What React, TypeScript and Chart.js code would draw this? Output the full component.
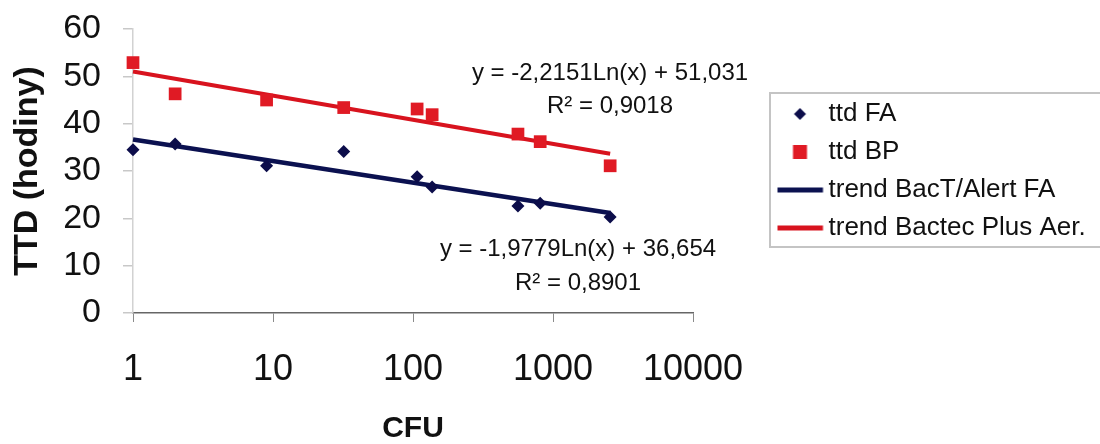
import React, { useEffect, useRef } from 'react';
import { Chart, registerables } from 'chart.js';

Chart.register(...registerables);

const FONT = '"Liberation Sans", Arial, Helvetica, sans-serif';

// ---- data ----
const cfu = [1, 2, 9, 32, 107, 137, 562, 810, 2560];
const ttdFA = [34.5, 35.7, 31.1, 34.1, 28.8, 26.6, 22.6, 23.2, 20.3];
const ttdBP = [52.9, 46.3, 45.0, 43.4, 43.1, 41.9, 37.8, 36.2, 31.1];
const trendX = [1, 2560];
const trendFA = [36.65, 21.13];
const trendBP = [51.03, 33.64];
const xTickValues = [1, 10, 100, 1000, 10000];
const yMin = 0;
const yMax = 60;
const yStep = 10;
const seriesNames = ['ttd FA', 'ttd BP', 'trend BacT/Alert FA', 'trend Bactec Plus Aer.'];
const equationBP = ['y = -2,2151Ln(x) + 51,031', 'R² = 0,9018'];
const equationFA = ['y = -1,9779Ln(x) + 36,654', 'R² = 0,8901'];
const xTitle = 'CFU';
const yTitle = 'TTD (hodiny)';

const NAVY = '#0c0d4a';
const NAVY_LINE = '#0b1150';
const RED = '#e01a24';
const RED_LINE = '#d8131e';

function makeMarker(kind: string, color: string): HTMLCanvasElement {
  const c = document.createElement('canvas');
  c.width = 60;
  c.height = 18;
  const g = c.getContext('2d') as CanvasRenderingContext2D;
  g.fillStyle = color;
  const cx = 27.5;
  const cy = 9;
  if (kind === 'diamond') {
    g.beginPath();
    g.moveTo(cx - 6, cy);
    g.lineTo(cx, cy - 6);
    g.lineTo(cx + 6, cy);
    g.lineTo(cx, cy + 6);
    g.closePath();
    g.fill();
  } else if (kind === 'square') {
    g.fillRect(cx - 7, cy - 7, 14, 14);
  } else {
    g.fillRect(2.5, cy - 2.5, 48, 5);
  }
  return c;
}

const annotationPlugin = {
  id: 'annotations',
  afterDraw(chart: any) {
    const ctx = chart.ctx as CanvasRenderingContext2D;
    ctx.save();
    // legend frame
    if (chart.legend) {
      ctx.strokeStyle = '#c4c4c4';
      ctx.lineWidth = 2;
      ctx.strokeRect(770, 93, 360, 154);
    }
    ctx.fillStyle = '#111';
    ctx.font = `24px ${FONT}`;
    ctx.textAlign = 'center';
    ctx.textBaseline = 'middle';
    ctx.fillText(equationBP[0], 610, 73);
    ctx.fillText(equationBP[1], 610, 106);
    ctx.fillText(equationFA[0], 578, 249);
    ctx.fillText(equationFA[1], 578, 283);
    ctx.restore();
  },
};

export default function App() {
  const ref = useRef<HTMLCanvasElement | null>(null);

  useEffect(() => {
    if (!ref.current) return;
    const markers = [
      makeMarker('diamond', NAVY),
      makeMarker('square', RED),
      makeMarker('line', NAVY_LINE),
      makeMarker('line', RED_LINE),
    ];
    const colors = [NAVY, RED, NAVY_LINE, RED_LINE];

    const chart = new Chart(ref.current, {
      type: 'scatter',
      data: {
        datasets: [
          {
            label: seriesNames[0],
            data: cfu.map((x, i) => ({ x, y: ttdFA[i] })),
            pointStyle: 'rectRot',
            pointRadius: 6.5,
            backgroundColor: NAVY,
            borderColor: NAVY,
            borderWidth: 0,
            clip: false,
            order: 0,
          },
          {
            label: seriesNames[1],
            data: cfu.map((x, i) => ({ x, y: ttdBP[i] })),
            pointStyle: 'rect',
            pointRadius: 9,
            backgroundColor: RED,
            borderColor: RED,
            borderWidth: 0,
            clip: false,
            order: 0,
          },
          {
            label: seriesNames[2],
            data: trendX.map((x, i) => ({ x, y: trendFA[i] })),
            showLine: true,
            pointRadius: 0,
            borderColor: NAVY_LINE,
            backgroundColor: NAVY_LINE,
            borderWidth: 4.5,
            clip: false,
            order: 1,
          },
          {
            label: seriesNames[3],
            data: trendX.map((x, i) => ({ x, y: trendBP[i] })),
            showLine: true,
            pointRadius: 0,
            borderColor: RED_LINE,
            backgroundColor: RED_LINE,
            borderWidth: 4,
            clip: false,
            order: 1,
          },
        ],
      },
      options: {
        responsive: false,
        animation: false,
        events: [],
        layout: { padding: { top: 29, left: 0, right: 12.5, bottom: 0 } },
        plugins: {
          tooltip: { enabled: false },
          legend: {
            display: true,
            position: 'right',
            align: 'center',
            fullSize: false,
            maxWidth: 310,
            labels: {
              usePointStyle: true,
              boxWidth: 26,
              boxHeight: 26,
              padding: 12,
              textAlign: 'left',
              color: '#111',
              font: { family: FONT, size: 26 },
              generateLabels: () =>
                seriesNames.map((name, i) => ({
                  text: name,
                  fillStyle: colors[i],
                  strokeStyle: colors[i],
                  lineWidth: 0,
                  pointStyle: markers[i],
                  hidden: false,
                  datasetIndex: i,
                  fontColor: '#111',
                })),
            },
          },
        },
        scales: {
          x: {
            type: 'logarithmic',
            min: 1,
            max: 10000,
            afterBuildTicks: (axis: any) => {
              axis.ticks = xTickValues.map((v) => ({ value: v }));
            },
            afterFit: (s: any) => {
              s.height = 131;
            },
            ticks: {
              autoSkip: false,
              maxRotation: 0,
              padding: 26,
              color: '#111',
              font: { family: FONT, size: 36 },
              callback: (v: any) => String(v),
            },
            grid: {
              drawOnChartArea: false,
              drawTicks: true,
              tickLength: 9,
              color: '#8a8a8a',
              lineWidth: 1,
            },
            border: { display: true, color: '#666', width: 1.5 },
            title: {
              display: true,
              text: xTitle,
              color: '#111',
              font: { family: FONT, size: 30, weight: 'bold', lineHeight: 1 },
              padding: { top: 0, bottom: 0 },
            },
          },
          y: {
            type: 'linear',
            min: yMin,
            max: yMax,
            afterFit: (s: any) => {
              s.width = 133;
            },
            ticks: {
              stepSize: yStep,
              padding: 22,
              color: '#111',
              font: { family: FONT, size: 34, lineHeight: 0.4 },
            },
            grid: {
              drawOnChartArea: false,
              drawTicks: true,
              tickLength: 10,
              color: '#c8c8c8',
              lineWidth: 1.5,
            },
            border: { display: true, color: '#d2d2d2', width: 1.5 },
            title: {
              display: true,
              text: yTitle,
              color: '#111',
              font: { family: FONT, size: 34, weight: 'bold', lineHeight: 1 },
              padding: { top: 11, bottom: 0 },
            },
          },
          y2: {
            type: 'linear',
            position: 'right',
            display: true,
            afterFit: (s: any) => {
              s.width = 84.5;
            },
            ticks: { display: false },
            grid: { display: false, drawTicks: false },
            border: { display: false },
          },
        },
      },
      plugins: [annotationPlugin],
    } as any);

    return () => chart.destroy();
  }, []);

  return (
    <div style={{ position: 'fixed', left: 0, top: 0, width: 1100, height: 444, background: '#fff' }}>
      <canvas ref={ref} width={1100} height={444} style={{ display: 'block', width: 1100, height: 444 }} />
    </div>
  );
}
